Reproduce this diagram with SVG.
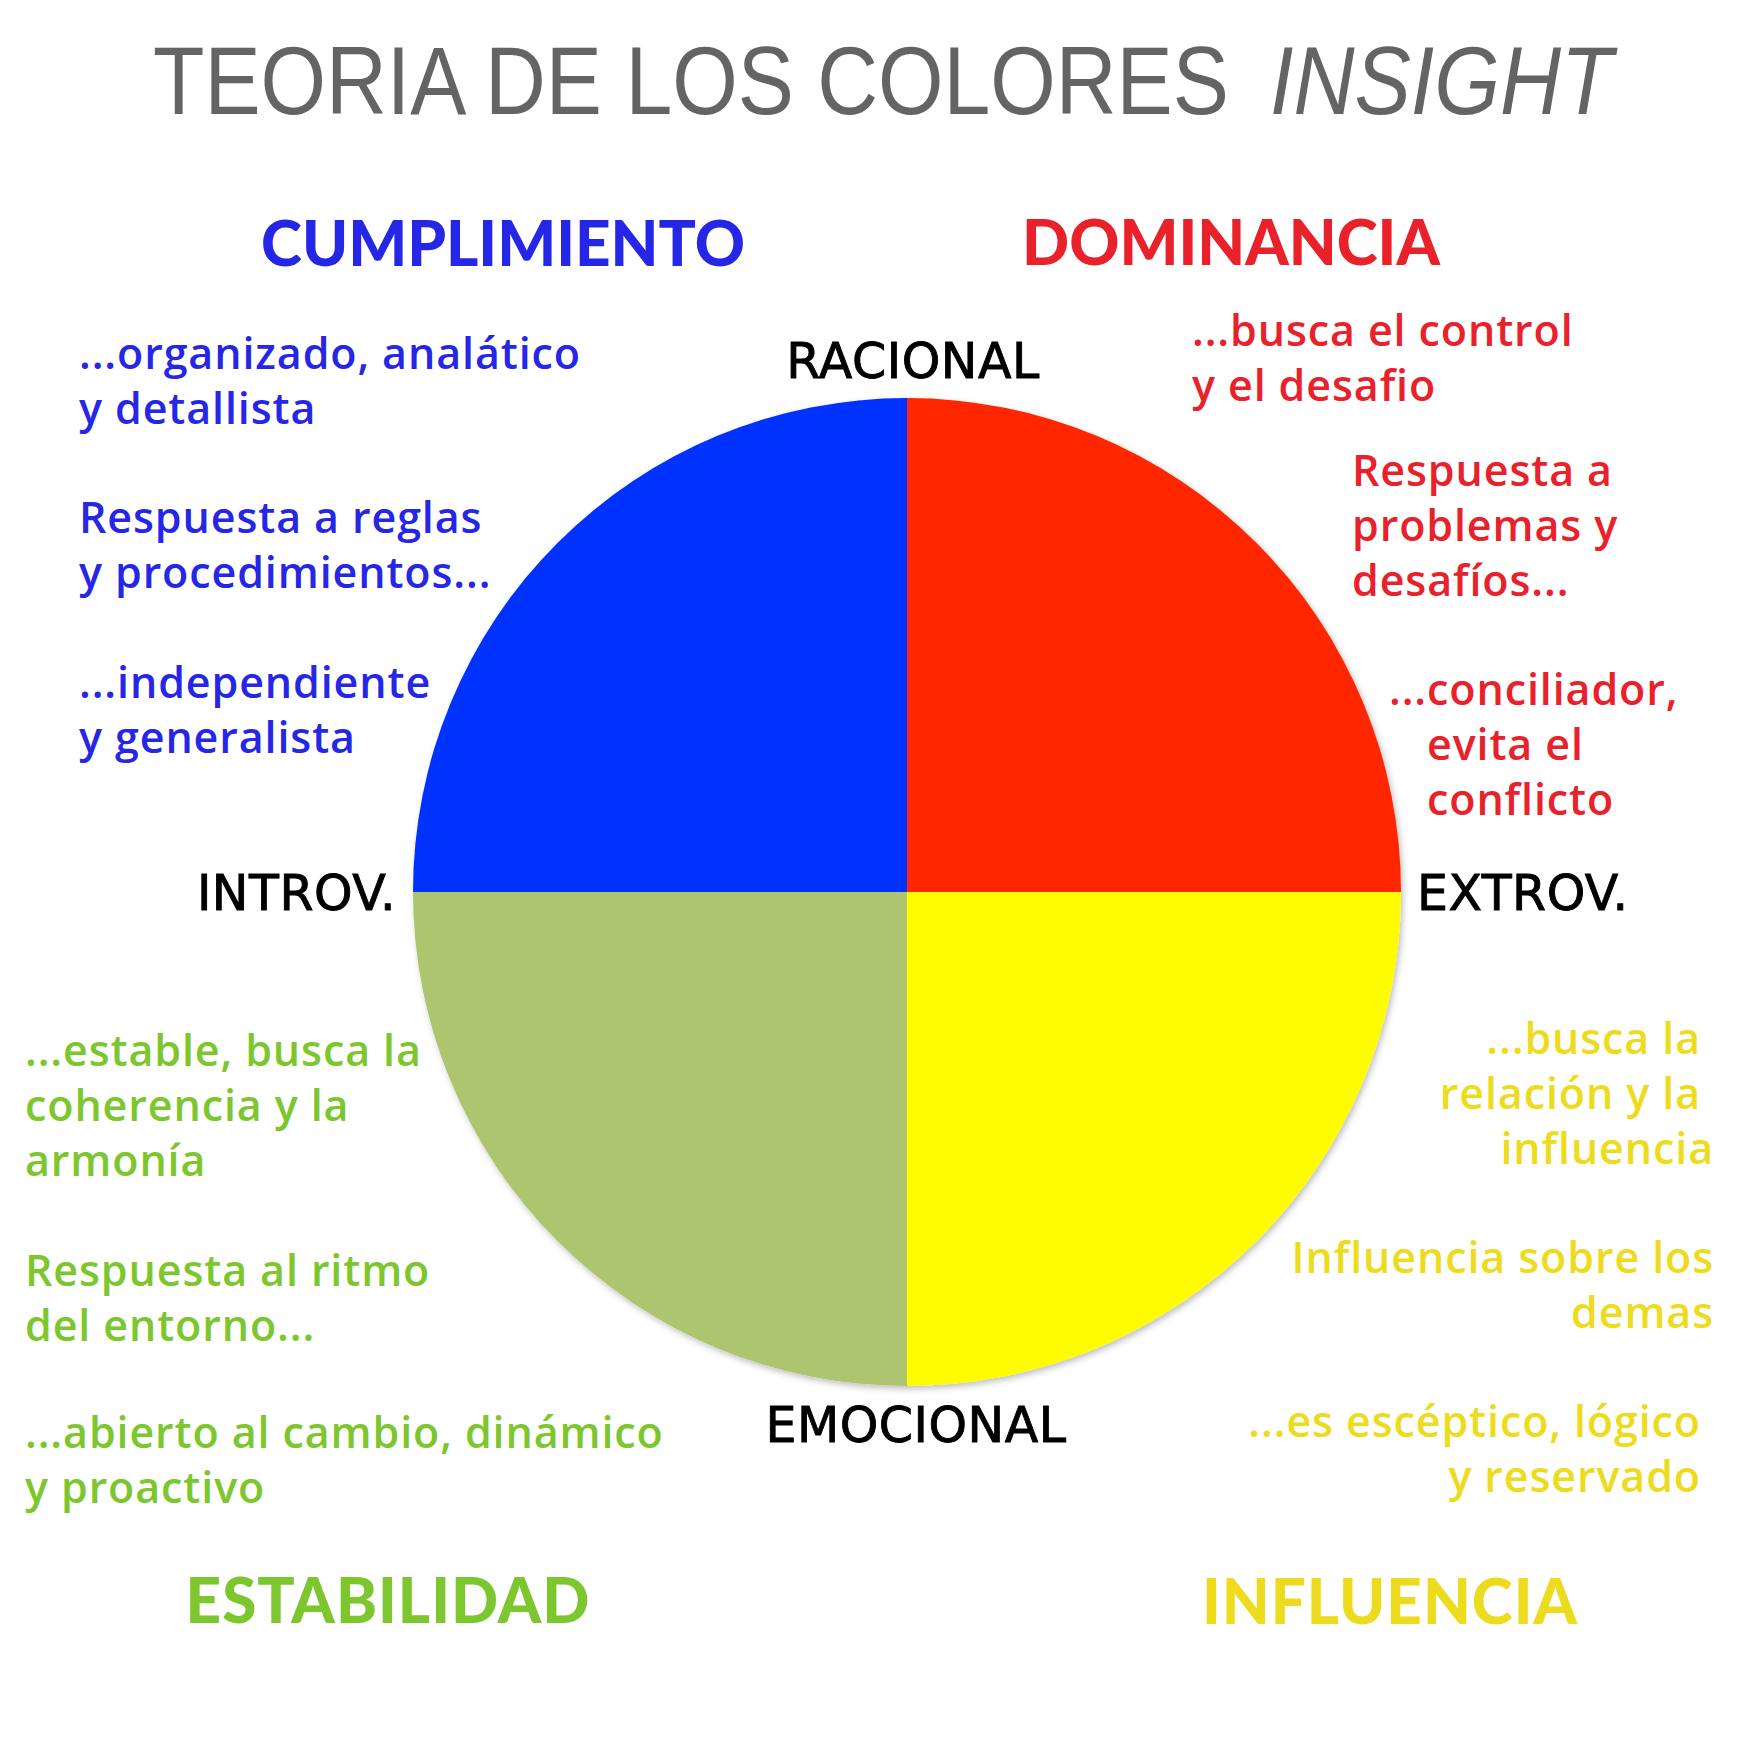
<svg xmlns="http://www.w3.org/2000/svg" width="1750" height="1750" viewBox="0 0 1750 1750">
<style>
.title{font-family:"Liberation Sans",Arial,sans-serif;font-size:96px;fill:#646464}
.hdr{font-family:Lato,"Open Sans",sans-serif;font-weight:900;font-size:62px;text-anchor:middle}
.lbl{font-family:"DejaVu Sans","Open Sans",sans-serif;font-size:49px;fill:#000;stroke:#000;stroke-width:0.9px;letter-spacing:0.5px}
.body{font-family:"Open Sans",Lato,sans-serif;font-weight:600;font-size:43px;letter-spacing:0.9px}
.blue{fill:#2626E6}.red{fill:#E8212B}.green{fill:#7CC62E}.yellow{fill:#EDDC1E}
.end{text-anchor:end}
</style>
<defs>
<filter id="sh" x="-10%" y="-10%" width="120%" height="120%">
<feDropShadow dx="2" dy="3" stdDeviation="3" flood-color="#000" flood-opacity="0.25"/>
</filter>
</defs>
<rect width="1750" height="1750" fill="#fff"/>
<g id="title">
<text class="title" transform="translate(153,114) scale(0.877,1)">TEORIA DE LOS COLORES</text>
<text class="title" transform="translate(1270,114) scale(0.88,1)" font-style="italic">INSIGHT</text>
</g>
<g id="circle" filter="url(#sh)">
<path id="q-blue" d="M907,892 L413,892 A494,494 0 0 1 907,398 Z" fill="#0433FF"/>
<path id="q-red" d="M907,892 L907,398 A494,494 0 0 1 1401,892 Z" fill="#FF2600"/>
<path id="q-yellow" d="M907,892 L1401,892 A494,494 0 0 1 907,1386 Z" fill="#FFFB00"/>
<path id="q-green" d="M907,892 L907,1386 A494,494 0 0 1 413,892 Z" fill="#ACC56E"/>
</g>
<g id="axis-labels">
<text class="lbl" x="913" y="378" text-anchor="middle">RACIONAL</text>
<text class="lbl" x="916" y="1442" text-anchor="middle">EMOCIONAL</text>
<text class="lbl" x="396" y="910" text-anchor="end">INTROV.</text>
<text class="lbl" x="1417" y="910">EXTROV.</text>
</g>
<g id="cumplimiento">
<text class="hdr blue" x="503" y="266">CUMPLIMIENTO</text>
<text class="body blue" x="79" y="369">...organizado, analático</text>
<text class="body blue" x="79" y="424">y detallista</text>
<text class="body blue" x="79" y="533">Respuesta a reglas</text>
<text class="body blue" x="79" y="588">y procedimientos...</text>
<text class="body blue" x="79" y="698">...independiente</text>
<text class="body blue" x="79" y="753">y generalista</text>
</g>
<g id="dominancia">
<text class="hdr red" x="1231" y="265">DOMINANCIA</text>
<text class="body red" x="1192" y="346">...busca el control</text>
<text class="body red" x="1192" y="401">y el desafio</text>
<text class="body red" x="1352" y="486">Respuesta a</text>
<text class="body red" x="1352" y="541">problemas y</text>
<text class="body red" x="1352" y="596">desafíos...</text>
<text class="body red" x="1389" y="705">...conciliador,</text>
<text class="body red" x="1427" y="760">evita el</text>
<text class="body red" x="1427" y="815">conflicto</text>
</g>
<g id="estabilidad">
<text class="hdr green" x="388" y="1623" style="letter-spacing:1px">ESTABILIDAD</text>
<text class="body green" x="25" y="1066">...estable, busca la</text>
<text class="body green" x="25" y="1121">coherencia y la</text>
<text class="body green" x="25" y="1176">armonía</text>
<text class="body green" x="25" y="1286">Respuesta al ritmo</text>
<text class="body green" x="25" y="1341">del entorno...</text>
<text class="body green" x="25" y="1448">...abierto al cambio, dinámico</text>
<text class="body green" x="25" y="1503">y proactivo</text>
</g>
<g id="influencia">
<text class="hdr yellow" x="1390" y="1624" style="letter-spacing:1px">INFLUENCIA</text>
<text class="body yellow end" x="1701" y="1054">...busca la</text>
<text class="body yellow end" x="1701" y="1109">relación y la</text>
<text class="body yellow end" x="1714" y="1164">influencia</text>
<text class="body yellow end" x="1714" y="1273">Influencia sobre los</text>
<text class="body yellow end" x="1714" y="1328">demas</text>
<text class="body yellow end" x="1701" y="1437">...es escéptico, lógico</text>
<text class="body yellow end" x="1701" y="1492">y reservado</text>
</g>
</svg>
